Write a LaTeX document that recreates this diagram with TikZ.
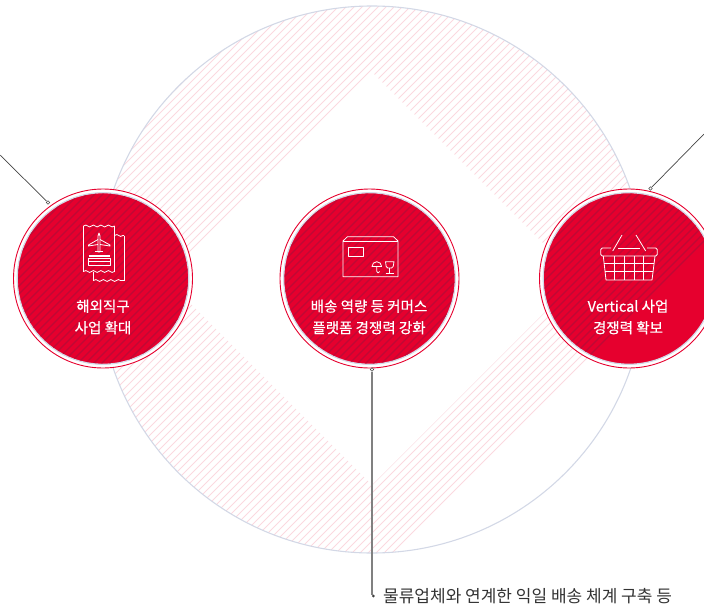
\documentclass[tikz,border=0pt]{standalone}
\usepackage{fontspec}
\setmainfont{Noto Sans CJK KR}
\newfontfamily\hubfont[FakeBold=0.5]{Noto Sans CJK KR}
\usepackage{xcolor}
\usepackage{tikz}
\usetikzlibrary{shapes,positioning,calc,decorations.pathmorphing}
\definecolor{hubred}{HTML}{E6002E}
\definecolor{hubstripe}{HTML}{BE0A35}
\definecolor{hatchpink}{HTML}{FBD9DF}
\definecolor{ringgrey}{HTML}{D3D8E6}
\definecolor{leadgrey}{HTML}{444444}
\begin{document}
\begin{tikzpicture}[
    x=1pt, y=-1pt,
    big_ring/.style={circle, draw=ringgrey, line width=1.1pt, minimum size=547pt, inner sep=0pt},
    core_gap/.style={diamond, fill=white, minimum width=413pt, minimum height=413pt, inner sep=0pt},
    hub_outer/.style={circle, draw=hubred, fill=white, line width=0.9pt, minimum size=179pt, inner sep=0pt},
    hub_inner/.style={circle, draw=ringgrey, fill=hubred, line width=1.2pt, minimum size=171.5pt, inner sep=0pt},
    hub_label/.style={text=white, font=\hubfont\fontsize{14.5}{21.5}\selectfont, align=center, inner sep=0pt},
    note_label/.style={text=black!80, font=\fontsize{17}{20}\selectfont, inner sep=0pt, anchor=west},
    tip_dot/.style={circle, draw=black!70, fill=white, line width=0.6pt, minimum size=3.6pt, inner sep=0pt},
    end_dot/.style={circle, fill=black!75, minimum size=3pt, inner sep=0pt},
    thin_lead/.style={draw=leadgrey, line width=0.7pt},
    thick_lead/.style={draw=black!50, line width=1.2pt},
    hatch_line/.style={draw=hatchpink, line width=1pt},
    dark_line/.style={draw=hubstripe, line width=1.3pt},
    icon_line/.style={draw=white, line width=0.8pt, line join=round},
    wave_line/.style={icon_line, decorate, decoration={snake, amplitude=0.9pt, segment length=7.5pt}}
]
\useasboundingbox (0,0) rectangle (704,610);

% Background: hatched circle
\begin{scope}
    \clip (372,279.5) circle (273.5pt);
    \foreach \c in {97,105,...,945}
        \draw[hatch_line] (\c,0) -- (0,\c);
\end{scope}
\node[big_ring] (ring) at (372,279.5) {};
\node[core_gap] (core) at (372,278.5) {};

% Three hubs
\foreach \name/\cx in {overseas/103, delivery/369.5, vertical/629} {
    \node[hub_outer] (\name_outer) at (\cx,278.5) {};
    \node[hub_inner] (\name_inner) at (\cx,278.5) {};
    \begin{scope}
        \clip (\cx,278.5) circle (85pt);
        \foreach \c in {97,105,...,945}
            \draw[dark_line] (\c,0) -- (0,\c);
    \end{scope}
}

% Hub texts
\node[hub_label] (overseas_text) at (103,317) {해외직구\\사업 확대};
\node[hub_label] (delivery_text) at (369,317) {배송 역량 등 커머스\\플랫폼 경쟁력 강화};
\node[hub_label] (vertical_text) at (628,317) {Vertical 사업\\경쟁력 확보};

% Icon: tickets
\draw[wave_line] (83.5,226) -- (114.5,226);
\draw[wave_line] (83.5,271.5) -- (114.5,271.5);
\draw[icon_line] (83.5,226) -- (83.5,271.5) (114.5,226) -- (114.5,271.5);
\draw[wave_line] (114.5,235.5) -- (124,235.5);
\draw[wave_line] (93.5,280.5) -- (124,280.5);
\draw[icon_line] (124,235.5) -- (124,280.5) (93.5,271.5) -- (93.5,280.5);
\draw[icon_line] (98,252) -- (98,236) -- (99,233) -- (100,236) -- (100,252) -- cycle;
\draw[icon_line] (98,239.5) -- (88.5,245) -- (88.5,246) -- (98,244.5) (100,239.5) -- (110,245) -- (110,246) -- (100,244.5);
\draw[icon_line] (95,251) -- (103,251);
\draw[icon_line, line width=1.1pt] (88.7,256) -- (110,256);
\draw[icon_line] (88.7,258) rectangle (110,265) (88.7,261.5) -- (110,261.5);

% Icon: parcel
\draw[icon_line] (343,241) -- (347.5,236.7) -- (393.5,236.7) -- (398,241) -- (398,276.7) -- (343,276.7) -- cycle;
\draw[icon_line] (343,241) -- (398,241);
\draw[icon_line] (348.3,247.7) rectangle (363.3,256);
\draw[icon_line] (372,266.5) arc (180:0:4.8pt) -- cycle;
\draw[icon_line] (376.8,266.5) -- (376.8,271.5) arc (180:360:1.4pt);
\draw[icon_line] (385.5,261.7) -- (394,261.7) -- (393.2,266.5) -- (391.5,268) -- (387.8,268) -- (386.2,266.5) -- cycle;
\draw[icon_line] (389.7,268) -- (389.7,273) (385.5,273) -- (394,273);

% Icon: basket
\draw[icon_line, rounded corners=1.5pt] (611,248) -- (600.7,248) -- (600.7,256) -- (657.3,256) -- (657.3,248) -- (647,248);
\draw[icon_line] (618,248) -- (640,248);
\draw[icon_line] (612.7,251) -- (622,235) (645.7,251) -- (636,235);
\draw[icon_line] (603.3,256) -- (606,280) -- (652,280) -- (655,256);
\foreach \gx in {614.3,624.3,634,643.3}
    \draw[icon_line] (\gx,256) -- (\gx,280);
\draw[icon_line] (604.1,263.3) -- (654.1,263.3) (605,271.7) -- (653.1,271.7);

% Leader lines
\node[tip_dot] (overseas_tip) at (48,202.5) {};
\node[tip_dot] (vertical_tip) at (650.5,188.5) {};
\node[tip_dot] (delivery_tip) at (372,369.5) {};
\node[end_dot] (delivery_end) at (373.3,596) {};
\coordinate (overseas_far) at (0,155);
\coordinate (vertical_far) at (704,134);
\coordinate (delivery_low) at (372,595);
\draw[thin_lead] (overseas_far) -- (overseas_tip);
\draw[thin_lead] (vertical_far) -- (vertical_tip);
\draw[thick_lead] (delivery_tip) -- (delivery_low);

% Bottom note
\node[note_label] (delivery_note) at (383,596.5) {물류업체와 연계한 익일 배송 체계 구축 등};

\end{tikzpicture}
\end{document}
